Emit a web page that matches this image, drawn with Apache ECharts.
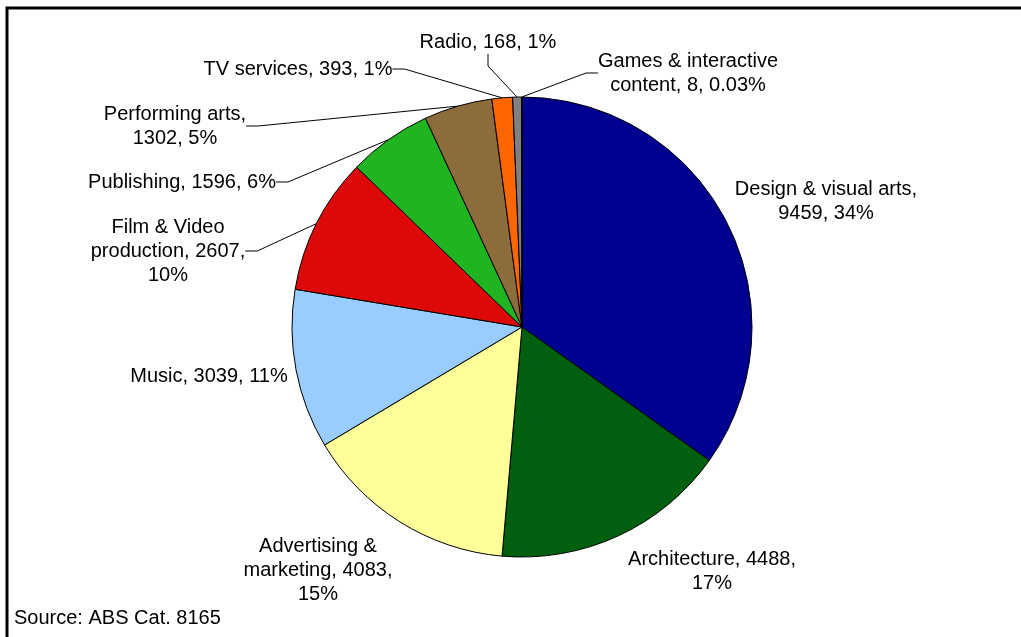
<!DOCTYPE html>
<html>
<head>
<meta charset="utf-8">
<title>Creative industries employment</title>
<script src="https://cdn.jsdelivr.net/npm/echarts@6/dist/echarts.min.js"></script>
<style>
  html, body { margin: 0; padding: 0; background: #fff; }
  #chart { width: 1021px; height: 637px; }
</style>
</head>
<body>
<div id="chart"></div>
<script>
// Categories, clockwise from 12 o'clock
const categories = [
  'Design & visual arts',
  'Architecture',
  'Advertising & marketing',
  'Music',
  'Film & Video production',
  'Publishing',
  'Performing arts',
  'TV services',
  'Radio',
  'Games & interactive content'
];
const values = [9459, 4488, 4083, 3039, 2607, 1596, 1302, 393, 168, 8];
const shares = ['34%', '17%', '15%', '11%', '10%', '6%', '5%', '1%', '1%', '0.03%'];
const sourceNote = 'Source: ABS Cat. 8165';

// Slice fills
const COLORS = ['#000090', '#006010', '#FFFF99', '#99CCFF', '#DD0808',
                '#20B420', '#8B6C3A', '#FF6600', '#808080', '#C0C0C0'];
// Max characters per label line before wrapping
const WRAP = [21, 19, 16, 40, 17, 40, 16, 40, 40, 19];
// Label centres and whether a leader line is drawn
const LABEL_POS = [
  [826, 201], [712, 571], [318, 570], [209, 376], [168, 251],
  [182, 182], [175, 126], [298, 69], [488, 42], [688, 73]
];
const LEADER = [false, false, false, false, true, true, true, true, true, true];

const FONT = "'Liberation Sans', Arial, sans-serif";

function wrapText(text, maxChars) {
  const words = text.split(' ');
  const lines = [];
  let cur = '';
  words.forEach(w => {
    const next = cur ? cur + ' ' + w : w;
    if (next.length > maxChars && cur) { lines.push(cur); cur = w; }
    else cur = next;
  });
  if (cur) lines.push(cur);
  return lines.join('\n');
}

const pieData = categories.map((name, i) => ({
  name: name,
  value: values[i],
  itemStyle: { color: COLORS[i] },
  labelLine: { show: LEADER[i] }
}));

const chart = echarts.init(document.getElementById('chart'), null, { renderer: 'canvas' });

chart.setOption({
  animation: false,
  backgroundColor: '#ffffff',
  graphic: [
    {
      type: 'rect',
      shape: { x: 7, y: 8, width: 1040, height: 660 },
      style: { fill: 'none', stroke: '#000', lineWidth: 3 },
      z: 10
    },
    {
      type: 'text',
      left: 14,
      top: 608,
      style: { text: sourceNote, font: '20px ' + FONT, fill: '#000' }
    }
  ],
  series: [{
    type: 'pie',
    center: [522, 327],
    radius: 230,
    startAngle: 90,
    clockwise: true,
    avoidLabelOverlap: false,
    minAngle: 0,
    data: pieData,
    itemStyle: { borderColor: '#000', borderWidth: 1 },
    emphasis: { disabled: true },
    label: {
      show: true,
      position: 'outside',
      color: '#000',
      fontFamily: FONT,
      fontSize: 20,
      lineHeight: 24,
      align: 'center',
      formatter: p => wrapText(p.name + ', ' + p.value + ', ' + shares[p.dataIndex], WRAP[p.dataIndex])
    },
    labelLine: {
      show: true,
      length: 10,
      length2: 12,
      smooth: false,
      lineStyle: { color: '#000', width: 1 }
    },
    labelLayout: function (params) {
      const pos = LABEL_POS[params.dataIndex];
      return {
        x: pos[0],
        y: pos[1],
        align: 'center',
        verticalAlign: 'middle'
      };
    }
  }]
});
</script>
</body>
</html>
